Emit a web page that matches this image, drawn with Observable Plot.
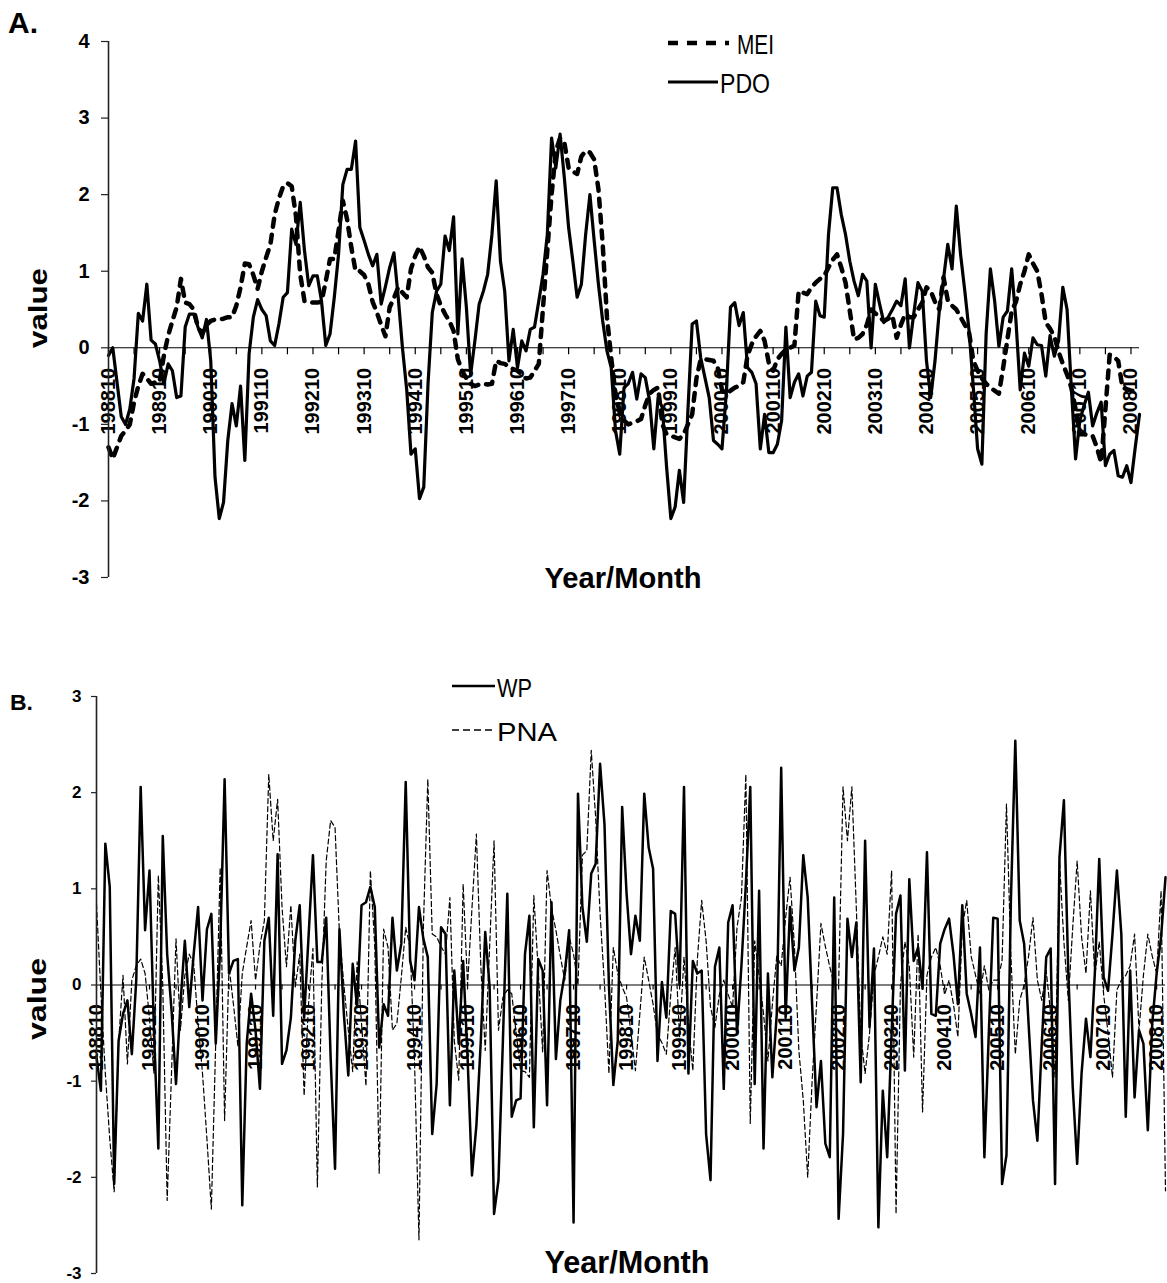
<!DOCTYPE html>
<html><head><meta charset="utf-8">
<script src="https://cdn.jsdelivr.net/npm/d3@7"></script>
<script src="https://cdn.jsdelivr.net/npm/@observablehq/plot@0.6"></script>
<style>
body{margin:0;background:#fff;}
#wrap{position:relative;width:1167px;height:1283px;overflow:hidden;background:#fff;}
</style></head><body><div id="wrap"></div>
<script>
// Monthly series, 198810 .. 200812 (243 months)
const tickLabels = ["198810","198910","199010","199110","199210","199310","199410","199510","199610","199710","199810","199910","200010","200110","200210","200310","200410","200510","200610","200710","200810"];

const PDO = [
-0.10, 0.00, -0.45, -0.90, -1.00, -0.80, -0.40, 0.45, 0.35, 0.83,
0.10, 0.05, -0.17, -0.47, -0.21, -0.30, -0.65, -0.63, 0.27, 0.44,
0.44, 0.27, 0.13, 0.37, -0.17, -1.69, -2.23, -2.02, -1.21, -0.73,
-1.02, -0.50, -1.47, -0.08, 0.40, 0.63, 0.50, 0.42, 0.09, 0.03,
0.31, 0.66, 0.72, 1.55, 1.35, 1.90, 1.27, 0.81, 0.94, 0.94,
0.61, 0.03, 0.18, 0.66, 1.22, 2.13, 2.33, 2.33, 2.70, 1.57,
1.40, 1.22, 1.07, 1.22, 0.57, 0.80, 1.05, 1.24, 0.66, 0.00,
-0.55, -1.39, -1.32, -1.97, -1.82, -0.47, 0.46, 0.74, 0.83, 1.46,
1.27, 1.71, 0.18, 1.16, 0.53, -0.35, 0.09, 0.57, 0.74, 0.96,
1.48, 2.18, 1.13, 0.74, -0.17, 0.24, -0.26, 0.09, -0.04, 0.24,
0.27, 0.61, 0.96, 1.48, 2.74, 2.35, 2.79, 2.22, 1.57, 1.13,
0.66, 0.83, 1.48, 2.00, 1.40, 0.83, 0.35, -0.04, -0.26, -1.08,
-1.39, -0.52, -0.47, -0.32, -0.67, -0.34, -0.39, -0.69, -1.32, -0.65,
-0.78, -1.56, -2.23, -2.08, -1.60, -2.02, -0.82, 0.31, 0.35, -0.13,
-0.39, -0.65, -1.21, -1.26, -1.32, -0.60, 0.53, 0.59, 0.29, 0.46,
-0.26, -0.32, -0.47, -1.32, -0.87, -1.37, -1.37, -1.26, -0.95, 0.27,
-0.65, -0.45, -0.34, -0.63, -0.37, -0.32, 0.61, 0.42, 0.40, 1.48,
2.09, 2.09, 1.74, 1.48, 1.13, 0.87, 0.68, 0.96, 0.87, 0.00,
0.83, 0.57, 0.33, 0.40, 0.50, 0.61, 0.55, 0.90, 0.00, 0.44,
0.85, 0.74, -0.17, -0.65, -0.17, 0.48, 0.90, 1.35, 1.03, 1.85,
1.22, 0.74, 0.22, -0.52, -1.32, -1.52, 0.18, 1.03, 0.61, 0.02,
0.40, 0.48, 1.03, 0.35, -0.55, -0.07, -0.24, 0.13, 0.04, 0.03,
-0.37, 0.16, -0.11, 0.09, 0.79, 0.50, -0.52, -1.45, -0.95, -0.75,
-0.58, -1.02, -0.85, -0.71, -1.54, -1.39, -1.34, -1.67, -1.69, -1.54,
-1.76, -1.30, -0.87];

const MEI = [
-1.30, -1.45, -1.30, -1.15, -1.08, -1.00, -0.71, -0.50, -0.34, -0.40,
-0.47, -0.45, -0.45, -0.10, 0.16, 0.35, 0.53, 0.90, 0.59, 0.57,
0.50, 0.27, 0.18, 0.30, 0.35, 0.37, 0.37, 0.38, 0.40, 0.40,
0.55, 0.79, 1.10, 1.09, 0.95, 0.77, 1.00, 1.18, 1.35, 1.74,
1.95, 2.11, 2.15, 2.11, 1.72, 0.96, 0.61, 0.60, 0.59, 0.59,
0.60, 0.87, 1.16, 1.16, 1.53, 1.92, 1.68, 1.31, 1.00, 1.00,
0.95, 0.83, 0.60, 0.46, 0.30, 0.15, 0.53, 0.65, 0.79, 0.72,
0.66, 1.03, 1.20, 1.32, 1.20, 1.05, 0.98, 0.70, 0.55, 0.44,
0.35, 0.22, -0.15, -0.30, -0.40, -0.47, -0.50, -0.48, -0.47, -0.48,
-0.47, -0.17, -0.20, -0.21, -0.25, -0.28, -0.30, -0.35, -0.40, -0.39,
-0.30, -0.21, 0.53, 1.27, 2.00, 2.57, 2.74, 2.68, 2.35, 2.30,
2.27, 2.50, 2.57, 2.55, 2.46, 2.07, 1.35, 0.40, -0.13, -0.60,
-0.85, -0.95, -1.00, -0.98, -0.96, -0.93, -0.75, -0.60, -0.55, -0.52,
-1.00, -1.13, -1.15, -1.17, -1.19, -1.13, -1.00, -0.87, -0.40, -0.15,
-0.15, -0.16, -0.17, -0.26, -0.55, -0.60, -0.56, -0.52, -0.50, -0.45,
-0.10, 0.05, 0.15, 0.22, 0.09, -0.20, -0.30, -0.15, -0.08, -0.02,
0.00, 0.03, 0.74, 0.72, 0.70, 0.79, 0.85, 0.90, 0.94, 1.05,
1.15, 1.22, 1.05, 0.85, 0.48, 0.11, 0.13, 0.18, 0.30, 0.50,
0.45, 0.40, 0.35, 0.38, 0.42, 0.13, 0.30, 0.44, 0.40, 0.40,
0.50, 0.59, 0.79, 0.74, 0.60, 0.50, 0.92, 0.62, 0.55, 0.50,
0.40, 0.30, 0.20, -0.17, -0.30, -0.40, -0.47, -0.52, -0.56, -0.60,
-0.26, 0.11, 0.48, 0.60, 0.83, 1.00, 1.22, 1.10, 1.00, 0.70,
0.33, 0.25, 0.15, -0.05, -0.21, -0.35, -0.52, -0.80, -1.13, -1.13,
-1.14, -1.15, -1.30, -1.50, -0.80, -0.09, -0.12, -0.17, -0.52, -0.54,
-0.56, -0.56, -0.56];

const WP = [
-0.75, -1.10, 1.47, 1.02, -2.07, -0.58, -0.30, -0.16, -0.72, 0.05,
2.06, 0.57, 1.19, -0.47, -1.70, 1.55, 0.32, -0.27, -1.03, -0.20,
0.46, -0.23, 0.32, 0.81, -0.16, 0.58, 0.74, -0.61, 0.39, 2.14,
0.12, 0.25, 0.27, -2.29, -0.61, -0.09, -0.47, -1.08, 0.46, 0.70,
-0.32, 1.36, -0.82, -0.68, -0.34, 0.46, 0.83, -0.34, 0.50, 1.35,
0.24, 0.24, 0.70, -0.75, -1.91, 0.58, -0.30, -0.94, 0.22, -0.23,
0.83, 0.86, 1.02, 0.81, -0.65, -0.20, -0.32, 0.70, 0.15, 0.43,
2.11, 0.25, 0.05, 0.81, 0.48, 0.29, -1.55, -1.03, 0.60, 0.53,
-1.25, 0.15, -0.61, 0.25, -0.75, -1.98, -1.46, -0.58, 0.55, -0.02,
-2.38, -2.03, -0.58, 0.95, -1.37, -1.20, -1.18, 0.32, 0.72, -1.48,
0.27, 0.15, -1.25, 0.86, -0.77, -0.16, 0.12, 0.57, -2.47, 1.99,
0.81, 0.45, 1.16, 1.26, 2.30, 1.67, 0.00, -1.04, -0.58, 1.85,
0.95, 0.32, 0.72, 0.46, 1.99, 1.43, 1.21, -0.79, 0.03, -0.34,
0.77, 0.74, 0.00, 2.06, -0.92, 0.25, 0.12, 0.15, -1.55, -2.03,
0.19, 0.39, -1.08, 0.65, 0.83, -0.51, 0.20, 1.05, 2.06, -1.03,
0.98, -1.70, 0.12, -0.96, -0.30, 2.26, -0.34, 0.81, 0.15, 0.39,
1.35, 0.91, -0.20, -1.27, -0.79, -1.65, -1.79, 0.91, -2.43, -1.55,
0.69, 0.29, 0.65, -1.01, 1.50, -0.44, 0.38, -2.52, -1.10, -1.79,
-0.50, 0.74, 0.93, -0.89, 1.10, 0.25, 0.39, -0.04, 1.38, -0.30,
-0.32, 0.43, 0.58, 0.69, 0.32, -0.20, 0.83, -0.09, -0.30, -0.54,
0.39, -1.79, -0.50, 0.70, 0.69, -2.07, -1.77, 0.88, 2.54, 0.67,
0.43, -0.40, -1.20, -1.62, -0.60, 0.29, 0.38, -2.07, 1.33, 1.92,
0.12, -1.06, -1.86, -0.92, -0.35, -0.75, 0.12, 1.31, 0.08, -0.06,
0.53, 1.19, 0.53, -1.37, 0.15, -1.17, -0.47, -0.61, -1.51, -0.40,
0.12, 0.50, 1.12];

const PNA = [
0.84, -0.09, -0.92, -1.60, -2.15, -0.60, 0.10, -0.82, 0.05, 0.20,
0.27, 0.12, -0.35, -0.92, 1.14, 0.00, -2.24, -0.89, 0.48, -0.47,
0.10, 0.32, 0.22, -0.40, -0.92, -1.60, -2.33, -0.58, 1.22, -1.41,
0.19, -0.20, -0.63, 0.12, 0.40, 0.67, 0.05, 0.41, 0.67, 2.19,
1.50, 1.93, 0.81, 0.19, 0.83, -0.02, 0.32, -1.15, -0.20, 0.38,
-2.10, 0.00, 1.29, 1.71, 1.64, 0.53, 0.00, -0.47, -0.90, 0.24,
-0.40, -1.05, 1.19, 0.40, -1.96, 0.58, 0.39, -0.47, -0.40, 0.08,
0.60, 0.39, -0.80, -2.65, 0.60, 2.14, 0.53, 0.50, 0.40, 0.32,
0.91, -0.58, -0.99, 1.05, 0.00, 0.80, 1.57, 0.20, -0.68, 0.40,
1.50, -0.47, -0.13, -0.05, -0.09, -0.50, -0.89, -0.90, -0.96, 0.93,
0.15, -0.70, 1.19, 0.80, 0.57, 0.30, 0.05, 0.50, 0.32, 0.00,
1.35, 1.40, 2.44, 1.74, 0.74, 0.00, -0.92, 0.39, 0.12, -0.02,
-0.13, -0.50, -0.89, -0.30, 0.29, 0.05, -0.20, -0.51, -0.60, -0.72,
-0.10, 0.39, -0.54, 0.29, -0.40, -0.89, 0.25, 0.88, 0.46, -0.23,
-0.44, -0.10, 0.05, -0.10, -0.23, 0.60, 0.91, 2.19, -1.44, 0.46,
0.10, -0.30, -0.79, -0.20, 0.30, 0.20, 0.70, 1.12, 0.40, -0.68,
-1.20, -2.00, -1.00, -0.20, 0.64, 0.40, 0.19, 0.00, 0.00, 2.06,
1.50, 2.06, 0.81, -0.51, -0.92, -0.50, 0.10, 0.29, 0.50, 0.32,
1.19, -2.38, 0.00, 0.45, 0.20, -0.75, 0.53, -1.32, 0.10, 0.29,
0.39, 0.20, -0.10, 0.05, -0.20, -0.54, 0.60, 0.88, 0.30, 0.10,
-0.10, 0.20, -0.05, 0.05, 0.05, 0.25, 1.88, 0.30, -0.72, -0.16,
0.00, 0.30, 0.70, 0.05, -0.16, 0.15, -0.30, -0.96, 1.29, 0.45,
-0.16, 0.60, 1.29, 0.50, 0.12, 0.98, 0.10, 0.45, -0.10, -0.50,
-0.96, -0.05, 0.05, 0.10, 0.20, 0.53, -0.47, 0.10, 0.53, 0.30,
0.12, 0.98, -2.14];

const yTicksA = [-3, -2, -1, 0, 1, 2, 3, 4];
const yTicksB = [-3, -2, -1, 0, 1, 2, 3];

const W = 1167;
const FONT = "'Liberation Sans', Arial, Helvetica, sans-serif";
const wrap = document.getElementById("wrap");
const nMonths = PDO.length;
const minorTicks = d3.range(0, nMonths, 6);

function makePanel(o) {
  const rows = o.a.map((v, i) => ({i, a: v, b: o.b[i]}));
  const innerH = o.height - o.mt - o.mb;
  const innerW = W - o.ml - o.mr;
  const ppu = innerH / (o.yDomain[1] - o.yDomain[0]);
  const ppx = innerW / (nMonths - 1);
  const svg = Plot.plot({
    width: W, height: o.height,
    marginTop: o.mt, marginBottom: o.mb, marginLeft: o.ml, marginRight: o.mr,
    x: {domain: [0, nMonths - 1], axis: null},
    y: {domain: o.yDomain, axis: null},
    style: {fontFamily: FONT, background: "white", color: "black", overflow: "visible"},
    marks: [
      // x category labels (rotated)
      Plot.text(tickLabels, {x: (d, k) => k * 12, y: 0, text: d => d, rotate: -90, textAnchor: "end",
        lineAnchor: "middle", dy: o.labelGap, fontSize: o.xFont, fontWeight: "bold", fill: "black",
        ariaLabel: "xlabels"}),
      // y tick labels
      Plot.text(o.yTicks, {x: 0, y: d => d, text: d => String(d), textAnchor: "end", lineAnchor: "middle",
        dx: -(o.yTick + o.yPad), fontSize: o.yFont, fontWeight: "bold", fill: "black", ariaLabel: "ylabels"}),
      // y tick marks
      Plot.ruleY(o.yTicks, {y: d => d, x1: -o.yTick / ppx, x2: 0, stroke: "#222", strokeWidth: 1.2}),
      Plot.ruleY([0], {stroke: "black", strokeWidth: 1.1}),
      Plot.ruleX(minorTicks, {x: d => d, y1: 0, y2: -o.xTick / ppu, stroke: "black", strokeWidth: 1.2}),
      ...o.lines(rows),
      Plot.ruleX([0], {stroke: "#222", strokeWidth: 1.6})
    ]
  });
  svg.style.position = "absolute";
  svg.style.left = "0px";
  svg.style.top = o.top + "px";
  wrap.appendChild(svg);
  const s = d3.select(svg);
  s.selectAll('g[aria-label="ylabels"] text').each(function () {
    const L = this.getComputedTextLength();
    this.setAttribute("textLength", (L * o.yCond).toFixed(1));
    this.setAttribute("lengthAdjust", "spacingAndGlyphs");
  });
  s.selectAll('g[aria-label="xlabels"] text').each(function () {
    this.setAttribute("textLength", o.xLen);
    this.setAttribute("lengthAdjust", "spacingAndGlyphs");
  });
  return svg;
}

makePanel({
  a: PDO, b: MEI, top: 0, height: 640, mt: 41, mb: 63, ml: 108, mr: 28,
  yDomain: [-3, 4], yTicks: yTicksA, yTick: 7, yPad: 12, yFont: 20, yCond: 0.72,
  xTick: 7, labelGap: 20, xFont: 20, xLen: 73,
  lines: rows => [
    Plot.line(rows, {x: "i", y: "b", stroke: "black", strokeWidth: 4.5, strokeDasharray: "8,8"}),
    Plot.line(rows, {x: "i", y: "a", stroke: "black", strokeWidth: 3.2})
  ]
});

makePanel({
  a: WP, b: PNA, top: 650, height: 633, mt: 46, mb: 10, ml: 96, mr: 2,
  yDomain: [-3, 3], yTicks: yTicksB, yTick: 5, yPad: 10, yFont: 17, yCond: 0.72,
  xTick: 5, labelGap: 19, xFont: 20, xLen: 76,
  lines: rows => [
    Plot.line(rows, {x: "i", y: "b", stroke: "black", strokeWidth: 1.2, strokeDasharray: "5,3"}),
    Plot.line(rows, {x: "i", y: "a", stroke: "black", strokeWidth: 2.5})
  ]
});

// overlay: panel letters, axis titles, legends
const ov = d3.select(wrap).append("svg")
  .attr("width", W).attr("height", 1283)
  .style("position", "absolute").style("left", "0px").style("top", "0px")
  .attr("font-family", FONT);

function txt(s, x, y, size, weight, len, opts = {}) {
  const t = ov.append("text").text(s).attr("x", x).attr("y", y)
    .attr("font-size", size).attr("font-weight", weight).attr("fill", "black")
    .attr("text-anchor", opts.anchor || "start");
  if (len) t.attr("textLength", len).attr("lengthAdjust", "spacingAndGlyphs");
  if (opts.rotate) t.attr("transform", `rotate(${opts.rotate},${x},${y})`);
  return t;
}
function seg(x1, x2, y, w, dash) {
  const l = ov.append("line").attr("x1", x1).attr("x2", x2).attr("y1", y).attr("y2", y)
    .attr("stroke", "black").attr("stroke-width", w);
  if (dash) l.attr("stroke-dasharray", dash);
}

// Panel A
txt("A.", 8, 33, 29, "bold", 30);
seg(668, 729, 43, 4.5, "10,9");
txt("MEI", 737, 54, 28, "normal", 37);
seg(668, 718, 82, 3);
txt("PDO", 720, 93, 28, "normal", 50);
txt("value", 47, 308, 25, "bold", 80, {anchor: "middle", rotate: -90});
txt("Year/Month", 623, 588, 30, "bold", 157, {anchor: "middle"});

// Panel B
txt("B.", 10, 710, 22, "bold", 23);
seg(452, 495, 686, 2.5);
txt("WP", 497, 697, 26, "normal", 35);
seg(452, 495, 730, 1.3, "7,4");
txt("PNA", 497, 741, 26, "normal", 60);
txt("value", 46, 999, 26, "bold", 82, {anchor: "middle", rotate: -90});
txt("Year/Month", 627, 1273, 31, "bold", 165, {anchor: "middle"});
</script></body></html>
